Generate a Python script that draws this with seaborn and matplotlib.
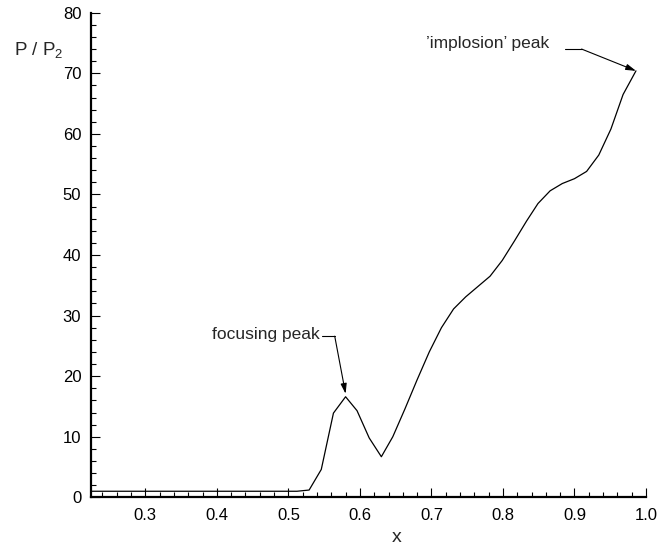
import numpy as np
import pandas as pd
import matplotlib
matplotlib.use("Agg")
import matplotlib.pyplot as plt
from matplotlib.ticker import MultipleLocator, FormatStrFormatter
import seaborn as sns

# Pressure ratio along the axis
x_pos = [0.224, 0.512, 0.529, 0.546, 0.563, 0.580, 0.596, 0.613, 0.630, 0.646,
         0.663, 0.680, 0.697, 0.714, 0.731, 0.748, 0.765, 0.782, 0.799, 0.816,
         0.833, 0.849, 0.866, 0.883, 0.900, 0.917, 0.934, 0.951, 0.968, 0.986]
p_ratio = [1.0, 1.0, 1.2, 4.6, 13.9, 16.6, 14.3, 9.8, 6.7, 10.0,
           14.6, 19.4, 24.0, 28.0, 31.1, 33.1, 34.8, 36.5, 39.1, 42.3,
           45.6, 48.5, 50.6, 51.8, 52.6, 53.8, 56.5, 60.8, 66.5, 70.4]

x_ticks = [0.3, 0.4, 0.5, 0.6, 0.7, 0.8, 0.9, 1.0]
y_ticks = [0, 10, 20, 30, 40, 50, 60, 70, 80]

focus_label = "focusing peak"
implosion_label = "\u2019implosion\u2019 peak"

df = pd.DataFrame({"x": x_pos, "p": p_ratio})

sns.set_style("ticks")
plt.rcParams["font.family"] = ["Liberation Sans", "DejaVu Sans"]
plt.rcParams["mathtext.fontset"] = "custom"
plt.rcParams["mathtext.rm"] = "Liberation Sans"
plt.rcParams["mathtext.default"] = "regular"

fig = plt.figure(figsize=(6.71, 5.48), dpi=100)
ax = fig.add_axes([0.1356, 0.0925, 0.8271, 0.8843])

sns.lineplot(data=df, x="x", y="p", color="black", linewidth=0.9, ax=ax)

ax.set_xlim(0.224, 1.0)
ax.set_ylim(0, 80)
ax.set_xticks(x_ticks)
ax.set_yticks(y_ticks)
ax.xaxis.set_minor_locator(MultipleLocator(0.02))
ax.yaxis.set_minor_locator(MultipleLocator(2))
ax.xaxis.set_major_formatter(FormatStrFormatter("%.1f"))

for side in ("top", "right"):
    ax.spines[side].set_visible(False)
for side in ("left", "bottom"):
    ax.spines[side].set_linewidth(1.6)
    ax.spines[side].set_color("black")

ax.tick_params(axis="both", which="major", direction="in", length=6.5,
               width=0.8, labelsize=12, colors="black")
ax.tick_params(axis="both", which="minor", direction="in", length=3.4,
               width=0.8, colors="black")
ax.tick_params(axis="x", which="major", pad=8)
ax.tick_params(axis="y", which="major", pad=7)

ax.set_xlabel("x", fontsize=14)
ax.xaxis.label.set_va("center")
ax.xaxis.set_label_coords(0.551, -0.082)
ax.set_ylabel("")
fig.text(0.021, 0.908, "P / P$_2$", fontsize=13.5, ha="left", va="center")

# Peak annotations with a short leader before each arrow
i_focus = int(np.argmax(p_ratio[:10]))
ax.text(0.3937, 26.8, focus_label, fontsize=12.5, ha="left", va="center")
ax.plot([0.5466, 0.5648], [26.6, 26.6], color="black", linewidth=0.8)
ax.annotate("", xy=(x_pos[i_focus], p_ratio[i_focus] + 0.5), xytext=(0.5648, 26.6),
            arrowprops=dict(arrowstyle="-|>,head_length=0.6,head_width=0.18",
                            color="black", linewidth=0.8, shrinkA=0, shrinkB=0))

ax.text(0.693, 75.0, implosion_label, fontsize=12.5, ha="left", va="center")
ax.plot([0.8866, 0.910], [74.0, 74.0], color="black", linewidth=0.8)
ax.annotate("", xy=(x_pos[-1], p_ratio[-1]), xytext=(0.910, 74.0),
            arrowprops=dict(arrowstyle="-|>,head_length=0.6,head_width=0.18",
                            color="black", linewidth=0.8, shrinkA=0, shrinkB=0))

fig.savefig("out.png", dpi=100)
